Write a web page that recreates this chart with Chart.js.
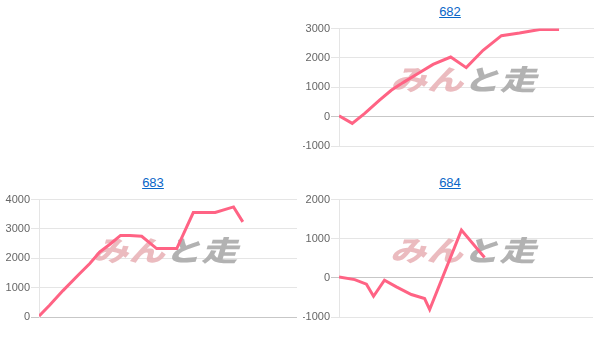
<!DOCTYPE html>
<html>
<head>
<meta charset="utf-8">
<script src="https://cdn.jsdelivr.net/npm/chart.js@4"></script>
<style>
  body { margin: 0; background: #fff; font-family: "Liberation Sans", Arial, sans-serif; }
  .title { position: absolute; width: 300px; text-align: center; font-size: 13px; line-height: 20px; }
  .title a { color: #0a66c8; text-decoration: underline; }
  canvas { position: absolute; }
</style>
</head>
<body>
<div class="title" style="left:300px;top:2px"><a href="#">682</a></div>
<canvas id="c682" width="300" height="150" style="left:300px;top:21px"></canvas>
<div class="title" style="left:3px;top:173px"><a href="#">683</a></div>
<canvas id="c683" width="300" height="150" style="left:0px;top:192px"></canvas>
<div class="title" style="left:300px;top:173px"><a href="#">684</a></div>
<canvas id="c684" width="300" height="150" style="left:300px;top:192px"></canvas>
<script>
const x682 = [0, 5.2, 10.1, 15.9, 20.5, 25.1, 31.0, 36.9, 43.8, 49.9, 56.5, 63.7, 70.8, 78.7, 86.3];
const y682 = [30, -230, 110, 560, 900, 1160, 1470, 1780, 2030, 1670, 2260, 2760, 2850, 2970, 2970];

const x683 = [0, 4.1, 9.3, 15.8, 19.7, 23.6, 27.5, 31.6, 35.2, 39.8, 45.6, 53.4, 59.8, 68.3, 75.4, 79.0];
const y683 = [30, 400, 900, 1480, 1820, 2220, 2480, 2780, 2780, 2750, 2330, 2330, 3560, 3560, 3750, 3240];

const x684 = [0, 6.2, 10.8, 13.6, 17.9, 22.6, 28.5, 33.7, 35.7, 48.2, 57.3];
const y684 = [25, -45, -160, -470, -60, -230, -425, -530, -810, 1220, 520];

// watermark behind the line
const watermark = {
    id: 'watermark',
    beforeDatasetsDraw(chart) {
        const ctx = chart.ctx;
        const a = chart.chartArea;
        const cx = (a.left + a.right) / 2;
        const cy = (a.top + a.bottom) / 2 - 8;
        ctx.save();
        ctx.translate(cx, cy);
        ctx.transform(1.3, 0, -0.3, 1, 0, 0);
        ctx.font = '900 28px "Noto Sans CJK JP"';
        ctx.textBaseline = 'middle';
        ctx.textAlign = 'left';
        const w1 = ctx.measureText('みん').width;
        const w2 = ctx.measureText('と走').width;
        const x0 = -(w1 + w2) / 2;
        ctx.fillStyle = 'rgba(232, 175, 180, 0.85)';
        ctx.fillText('みん', x0, 0);
        ctx.fillStyle = 'rgba(170, 170, 170, 0.9)';
        ctx.fillText('と走', x0 + w1, 0);
        ctx.restore();
    }
};

function makeChart(id, xs, ys, min, max, padLeft, padRight) {
    const points = xs.map((x, i) => ({ x: x, y: ys[i] }));
    return new Chart(document.getElementById(id), {
        type: 'line',
        data: {
            datasets: [{
                data: points,
                borderColor: 'rgb(255, 99, 132)',
                borderWidth: 3,
                pointRadius: 0,
                tension: 0,
                fill: false
            }]
        },
        options: {
            responsive: false,
            animation: false,
            layout: { padding: { top: 0, bottom: 25, left: padLeft, right: padRight } },
            plugins: { legend: { display: false }, tooltip: { enabled: false } },
            scales: {
                x: { type: 'linear', min: 0, max: 100, display: false },
                y: {
                    min: min,
                    max: max,
                    afterFit: (scale) => { scale.width = 36; },
                    ticks: {
                        stepSize: 1000,
                        padding: 1,
                        color: '#666',
                        callback: (v) => String(v),
                        font: { family: '"Liberation Sans", Arial, sans-serif', size: 11 }
                    },
                    grid: {
                        tickLength: 8,
                        color: (c) => c.tick && c.tick.value === 0 ? 'rgba(0,0,0,0.22)' : 'rgba(0,0,0,0.1)'
                    },
                    border: { color: 'rgba(0,0,0,0.1)' }
                }
            }
        },
        plugins: [watermark]
    });
}

makeChart('c682', x682, y682, -1000, 3000, 3, 6);
makeChart('c683', x683, y683, 0, 4000, 3, 3);
makeChart('c684', x684, y684, -1000, 2000, 3, 7);
</script>
</body>
</html>
